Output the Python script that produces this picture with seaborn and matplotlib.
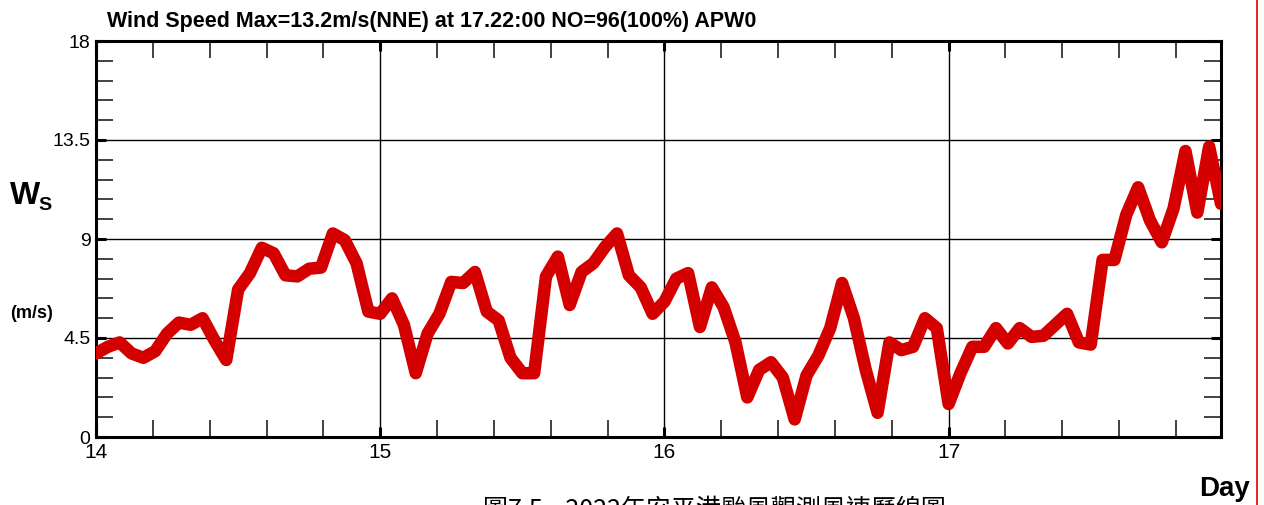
import numpy as np
import pandas as pd
import matplotlib
matplotlib.use('Agg')
import matplotlib.pyplot as plt
from matplotlib.ticker import MultipleLocator
import seaborn as sns

# hourly wind speed (m/s), day 14 00:00 -> day 17 23:00
ws_day14 = [3.8, 4.1, 4.3, 3.8, 3.6, 3.9, 4.7, 5.2, 5.1, 5.4, 4.4, 3.5,
            6.7, 7.45, 8.6, 8.35, 7.35, 7.3, 7.65, 7.7, 9.25, 8.95, 7.9, 5.7]
ws_day15 = [5.6, 6.3, 5.1, 2.9, 4.7, 5.6, 7.05, 7.0, 7.5, 5.7, 5.3, 3.6,
            2.9, 2.9, 7.3, 8.2, 6.0, 7.5, 7.9, 8.65, 9.25, 7.35, 6.8, 5.6]
ws_day16 = [6.15, 7.2, 7.45, 5.0, 6.8, 5.9, 4.3, 1.8, 3.05, 3.4, 2.7, 0.8,
            2.8, 3.7, 4.95, 7.0, 5.4, 3.05, 1.1, 4.3, 3.95, 4.1, 5.4, 4.95]
ws_day17 = [1.5, 2.9, 4.1, 4.1, 4.95, 4.25, 4.95, 4.55, 4.6, 5.1, 5.6, 4.3,
            4.2, 8.05, 8.05, 10.1, 11.35, 9.85, 8.85, 10.4, 13.0, 10.2, 13.2, 10.6]
start_day = 14
n_hours = 96

y_ticks = [0, 4.5, 9, 13.5, 18]
y_ticklabels = ['0', '4.5', '9', '13.5', '18']
x_ticks = [14, 15, 16, 17]
x_ticklabels = ['14', '15', '16', '17']

titulo = 'Wind Speed Max=13.2m/s(NNE) at 17.22:00 NO=96(100%) APW0'
legenda = '圖7.5    2022年安平港颱風觀測風速歷線圖'

ws = ws_day14 + ws_day15 + ws_day16 + ws_day17
df = pd.DataFrame({'day': start_day + np.arange(n_hours) / 24.0, 'ws': ws})

sns.set_style('white')
plt.rcParams['font.family'] = ['Liberation Sans', 'DejaVu Sans']
plt.rcParams['text.color'] = 'black'
plt.rcParams['xtick.color'] = 'black'
plt.rcParams['ytick.color'] = 'black'

fig = plt.figure(figsize=(12.64, 5.05), dpi=100)
ax = fig.add_axes([96 / 1264, 1 - 437 / 505, (1221 - 96) / 1264, (437 - 41) / 505])

sns.lineplot(data=df, x='day', y='ws', ax=ax, color='#d40000', linewidth=9,
             solid_joinstyle='round', zorder=3)

ax.set_xlim(start_day, start_day + (n_hours - 1) / 24.0)
ax.set_ylim(0, 18)
ax.set_xticks(x_ticks)
ax.set_xticklabels(x_ticklabels, fontsize=15)
ax.set_yticks(y_ticks)
ax.set_yticklabels(y_ticklabels, fontsize=14)
ax.xaxis.set_minor_locator(MultipleLocator(0.2))
ax.yaxis.set_minor_locator(MultipleLocator(0.9))
ax.tick_params(which='major', direction='in', length=7, width=2.2, colors='black',
               left=True, bottom=True, top=True, right=True, pad=4)
ax.tick_params(which='minor', direction='in', length=12, width=1.3, color='#333333',
               left=True, bottom=True, top=True, right=True)
ax.grid(True, which='major', color='black', linewidth=1.0)
for s in ax.spines.values():
    s.set_visible(True)
    s.set_color('black')
    s.set_linewidth(2.2)
ax.set_xlabel('')
ax.set_ylabel('')

fig.text(107 / 1264, 1 - 22 / 505, titulo, fontsize=15.5, fontweight='bold', va='center', ha='left')
fig.text(10 / 1264, 1 - 196 / 505, 'W', fontsize=23, fontweight='bold', va='center', ha='left')
fig.text(38 / 1264, 1 - 205 / 505, 'S', fontsize=14, fontweight='bold', va='center', ha='left')
fig.text(10 / 1264, 1 - 313 / 505, '(m/s)', fontsize=13, fontweight='bold', va='center', ha='left')
fig.text(1250 / 1264, 1 - 489 / 505, 'Day', fontsize=20, fontweight='bold', va='center', ha='right')
fig.text(483 / 1264, 1 - 496 / 505, legenda, fontsize=18, va='top', ha='left',
         family=['Noto Sans CJK TC', 'DejaVu Sans'])
fig.add_artist(plt.Line2D([1257 / 1264, 1257 / 1264], [0, 1], color='#e00000', linewidth=1.2))

fig.savefig('out.png', dpi=100)
